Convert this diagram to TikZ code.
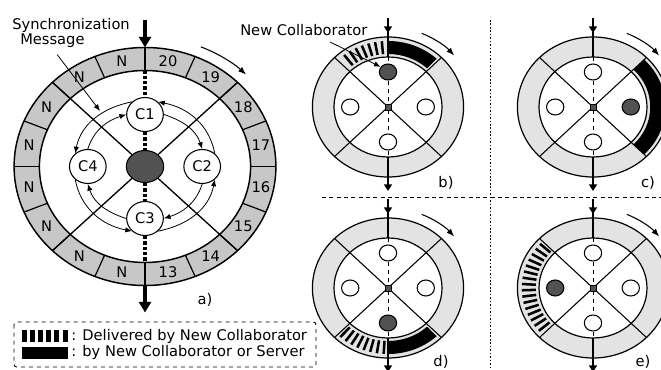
\documentclass[tikz,border=0pt]{standalone}
\usepackage{fontspec}
\setmainfont{DejaVu Sans}
\usetikzlibrary{arrows.meta,shapes.geometric}
\definecolor{ringA}{gray}{0.78}
\definecolor{ringB}{gray}{0.89}
\definecolor{darkdot}{gray}{0.32}

\newcommand{\subdisk}[7]{%
\begin{scope}[shift={#1}, x={(0.81pt,0pt)}, y={(0pt,0.75pt)}]
  \fill[ringB, even odd rule] (0,0) circle[radius=70] (0,0) circle[radius=50];
  #3
  \draw[line width=0.9pt] (0,0) circle[radius=70] (0,0) circle[radius=50];
  \draw[line width=0.8pt] (45:70) -- (225:70) (135:70) -- (315:70);
  \draw[line width=0.8pt] (90:75) -- (90:50) (270:50) -- (270:76);
  \draw[line width=1.5pt, -{Triangle[length=5pt,width=6pt]}] (90:89) -- (90:74);
  \draw[line width=1.5pt, -{Triangle[length=5pt,width=6pt]}] (270:76) -- (270:84);
  \draw[rotarrow] (67:80) arc[start angle=67, end angle=40, radius=80];
  \coordinate (#2t) at (90:50);
  \coordinate (#2b) at (270:50);
  \node[snode, fill=#4] (#2N) at (90:35) {};
  \node[snode, fill=#5] (#2E) at (0:35) {};
  \node[snode, fill=#6] (#2S) at (270:35) {};
  \node[snode, fill=#7] (#2W) at (180:35) {};
  \node[hubsq] (#2H) at (0,0) {};
  \draw[dashed, line width=0.7pt] (#2t) -- (#2N) -- (#2H) -- (#2S) -- (#2b);
\end{scope}}

\begin{document}
\begin{tikzpicture}[x=0.75pt, y=-0.75pt, font=\fontsize{11}{13}\selectfont, line join=round,
  cnode/.style={ellipse, draw, fill=white, line width=0.8pt, minimum width=27.5pt, minimum height=25.5pt, inner sep=0pt},
  hubnode/.style={ellipse, draw, fill=darkdot, line width=0.8pt, minimum width=28pt, minimum height=24pt, inner sep=0pt},
  snode/.style={ellipse, draw, line width=0.8pt, minimum width=13pt, minimum height=12pt, inner sep=0pt},
  hubsq/.style={rectangle, draw, fill=darkdot, line width=0.6pt, minimum size=4.5pt, inner sep=0pt},
  ladder/.style={line width=2.6pt, dash pattern=on 2.4pt off 1.6pt},
  arcarrow/.style={line width=0.6pt, -{Latex[length=5pt,width=4pt]}},
  rotarrow/.style={line width=0.8pt, -{Latex[length=6pt,width=4.5pt]}},
  bigarrow/.style={line width=3pt, -{Triangle[length=8pt,width=9pt]}},
  stripe/.style={line width=1.9pt}
]
\useasboundingbox (0,0) rectangle (661,370);

% ---------- main figure a) ----------
\begin{scope}[shift={(145,166.5)}, x={(0.825pt,0pt)}, y={(0pt,0.75pt)}]
  \fill[ringA, even odd rule] (0,0) circle[radius=119] (0,0) circle[radius=96];
  \draw[line width=1.1pt] (0,0) circle[radius=119];
  \draw[line width=1.1pt] (0,0) circle[radius=96];
  \foreach \a in {0,22.5,...,337.5} \draw[line width=0.9pt] (\a:96) -- (\a:119);
  \draw[line width=1pt] (45:119) -- (225:119) (135:119) -- (315:119);
  \foreach \n [count=\k from 0] in {20,19,18,17,16,15,14,13}
    \node (lab\n) at ({78.75-22.5*\k}:107.5) {\n};
  \foreach \k in {0,...,7}
    \node (labN\k) at ({101.25+22.5*\k}:107.5) {N};
  \coordinate (otop) at (90:119);
  \coordinate (obot) at (270:119);
  \coordinate (atop) at (90:146);
  \coordinate (abot) at (270:146);
  \coordinate (itop) at (90:96);
  \coordinate (ibot) at (270:96);
  \draw[bigarrow] (atop) -- (otop);
  \draw[bigarrow] (obot) -- (abot);
  \draw[rotarrow] (67:130) arc[start angle=67, end angle=45, radius=130];
  \node[hubnode] (hub) at (0,0) {};
  \node[cnode] (C1) at (90:52) {C1};
  \node[cnode] (C2) at (0:52) {C2};
  \node[cnode] (C3) at (270:52) {C3};
  \node[cnode] (C4) at (180:52) {C4};
  \draw[ladder] (itop) -- (C1) -- (hub) -- (C3) -- (ibot);
  % clockwise messages (inner)
  \draw[arcarrow] (C1.0) to[out=-18, in=108] (C2.90);
  \draw[arcarrow] (C2.-90) to[out=-108, in=18] (C3.0);
  \draw[arcarrow] (C3.180) to[out=162, in=-72] (C4.-90);
  \draw[arcarrow] (C4.90) to[out=72, in=198] (C1.180);
  % counter-clockwise messages (outer)
  \draw[arcarrow] (C2.46) to[out=101, in=-11] (C1.44);
  \draw[arcarrow] (C1.136) to[out=191, in=79] (C4.134);
  \draw[arcarrow] (C4.226) to[out=281, in=169] (C3.224);
  \draw[arcarrow] (C3.316) to[out=11, in=259] (C2.314);
\end{scope}

\node[anchor=base west, inner sep=0pt] (syncA) at (12,30) {Synchronization};
\node[anchor=base west, inner sep=0pt] (syncB) at (20,45) {Message};
\coordinate (syncto) at (100,111);
\draw[line width=0.6pt, -{Latex[length=5pt,width=4pt]}, shorten <=6pt] (syncB.south) -- (syncto);
\node[anchor=base] (lbla) at (205,305) {a)};

% ---------- legend ----------
\draw[dashed, rounded corners=2pt, line width=0.7pt] (14,322) rectangle (316,367);
\foreach \i in {0,...,5} \fill ({22+\i*8.1},330) rectangle ++(5,12);
\fill (22,347) rectangle (68,359);
\node[anchor=base west, inner sep=0pt] (leg1) at (71,341) {: Delivered by New Collaborator};
\node[anchor=base west, inner sep=0pt] (leg2) at (71,357) {: by New Collaborator or Server};

% ---------- separators ----------
\draw[line width=0.7pt, dash pattern=on 1.2pt off 1.4pt] (490,20) -- (490,370);
\draw[line width=0.7pt, dash pattern=on 3pt off 2.5pt] (322,197) -- (661,197);

% ---------- b) ----------
\subdisk{(388,107)}{b}{%
  \fill (90:53) arc[start angle=90, end angle=47, radius=53] -- (47:66) arc[start angle=47, end angle=90, radius=66] -- cycle;
  \foreach \t in {95,100.5,...,133} \draw[stripe] (\t:53) -- (\t:66);
}{darkdot}{white}{white}{white}
\node[anchor=base west, inner sep=0pt] (newcol) at (240,36) {New Collaborator};
\coordinate (ncfrom) at (330,42);
\draw[line width=0.6pt, -{Latex[length=5pt,width=4pt]}] (ncfrom) -- (bN.145);
\node[anchor=base] (lblb) at (446,188) {b)};

% ---------- c) ----------
\subdisk{(593,107)}{c}{%
  \fill (45:53) arc[start angle=45, end angle=-45, radius=53] -- (-45:67) arc[start angle=-45, end angle=45, radius=67] -- cycle;
}{white}{darkdot}{white}{white}
\node[anchor=base] (lblc) at (648,188) {c)};

% ---------- d) ----------
\subdisk{(388,288)}{d}{%
  \fill (270:53) arc[start angle=270, end angle=313, radius=53] -- (313:66) arc[start angle=313, end angle=270, radius=66] -- cycle;
  \foreach \t in {228,233.5,...,267} \draw[stripe] (\t:53) -- (\t:66);
}{white}{white}{darkdot}{white}
\node[anchor=base] (lbld) at (441,367) {d)};

% ---------- e) ----------
\subdisk{(593,288)}{e}{%
  \foreach \t in {138,143.5,...,223} \draw[stripe] (\t:53) -- (\t:66);
}{white}{white}{white}{darkdot}
\node[anchor=base] (lble) at (643,367) {e)};
\end{tikzpicture}
\end{document}
